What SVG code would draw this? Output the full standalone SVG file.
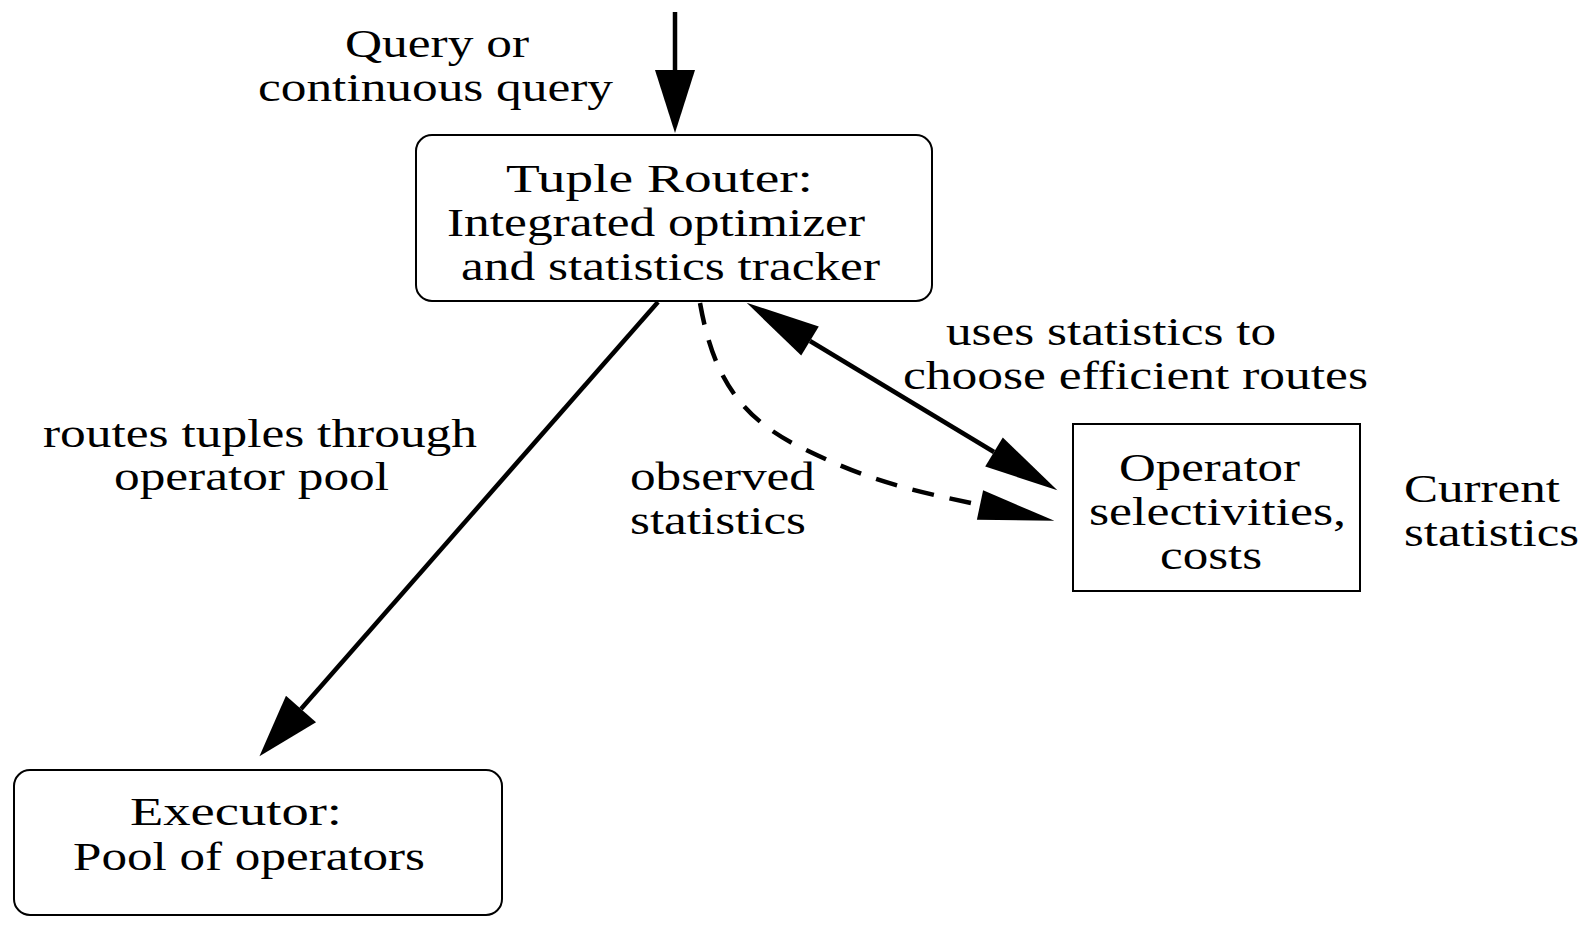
<svg xmlns="http://www.w3.org/2000/svg" width="1588" height="936" viewBox="0 0 1588 936">
<style>
.t{font-family:"Liberation Serif","Times New Roman",serif;font-size:40px;fill:#000}
.box{fill:#fff;stroke:#000;stroke-width:2}
.ln{fill:none;stroke:#000;stroke-width:4.5}
.dash{fill:none;stroke:#000;stroke-width:4.5;stroke-dasharray:22 16}
</style>
<defs>
<marker id="big" markerUnits="userSpaceOnUse" orient="auto" refX="0" refY="0" markerWidth="80" markerHeight="50" overflow="visible"><path d="M0,-20 L63,0 L0,20 z" fill="#000"/></marker>
<marker id="slim" markerUnits="userSpaceOnUse" orient="auto-start-reverse" refX="0" refY="0" markerWidth="80" markerHeight="50" overflow="visible"><path d="M0,-17 L74,0 L0,17 z" fill="#000"/></marker>
<marker id="slimd" markerUnits="userSpaceOnUse" orient="auto" refX="0" refY="0" markerWidth="80" markerHeight="50" overflow="visible"><path d="M0,-15 L76,0 L0,15 z" fill="#000"/></marker>
</defs>
<rect width="1588" height="936" fill="#fff"/>
<g id="connectors">
<line class="ln" x1="675" y1="12" x2="675" y2="70" marker-end="url(#big)"/>
<line class="ln" x1="658" y1="302" x2="301" y2="709" marker-end="url(#big)"/>
<line class="ln" x1="810" y1="341" x2="994" y2="452" marker-start="url(#slim)" marker-end="url(#slim)"/>
<path class="dash" d="M700,303 C712,370 735,415 800,447 S900,488 980,505" marker-end="url(#slimd)"/>
</g>
<g id="labels">
<text class="t" x="345" y="57" textLength="184" lengthAdjust="spacingAndGlyphs">Query or</text>
<text class="t" x="258" y="101" textLength="355" lengthAdjust="spacingAndGlyphs">continuous query</text>
<text class="t" x="946" y="345" textLength="330" lengthAdjust="spacingAndGlyphs">uses statistics to</text>
<text class="t" x="903" y="389" textLength="465" lengthAdjust="spacingAndGlyphs">choose efficient routes</text>
<text class="t" x="43" y="447" textLength="434" lengthAdjust="spacingAndGlyphs">routes tuples through</text>
<text class="t" x="114" y="490" textLength="275" lengthAdjust="spacingAndGlyphs">operator pool</text>
<text class="t" x="630" y="490" textLength="185" lengthAdjust="spacingAndGlyphs">observed</text>
<text class="t" x="630" y="534" textLength="176" lengthAdjust="spacingAndGlyphs">statistics</text>
<text class="t" x="1404" y="502" textLength="156" lengthAdjust="spacingAndGlyphs">Current</text>
<text class="t" x="1404" y="546" textLength="175" lengthAdjust="spacingAndGlyphs">statistics</text>
</g>
<g id="tuple-router">
<rect class="box" x="416" y="135" width="516" height="166" rx="16"/>
<text class="t" x="506" y="192" textLength="307" lengthAdjust="spacingAndGlyphs">Tuple Router:</text>
<text class="t" x="447" y="236" textLength="418" lengthAdjust="spacingAndGlyphs">Integrated optimizer</text>
<text class="t" x="461" y="280" textLength="419" lengthAdjust="spacingAndGlyphs">and statistics tracker</text>
</g>
<g id="operator-stats">
<rect class="box" x="1073" y="424" width="287" height="167"/>
<text class="t" x="1119" y="481" textLength="181" lengthAdjust="spacingAndGlyphs">Operator</text>
<text class="t" x="1089" y="525" textLength="257" lengthAdjust="spacingAndGlyphs">selectivities,</text>
<text class="t" x="1160" y="569" textLength="102" lengthAdjust="spacingAndGlyphs">costs</text>
</g>
<g id="executor">
<rect class="box" x="14" y="770" width="488" height="145" rx="16"/>
<text class="t" x="130" y="825" textLength="212" lengthAdjust="spacingAndGlyphs">Executor:</text>
<text class="t" x="73" y="870" textLength="352" lengthAdjust="spacingAndGlyphs">Pool of operators</text>
</g>
</svg>
